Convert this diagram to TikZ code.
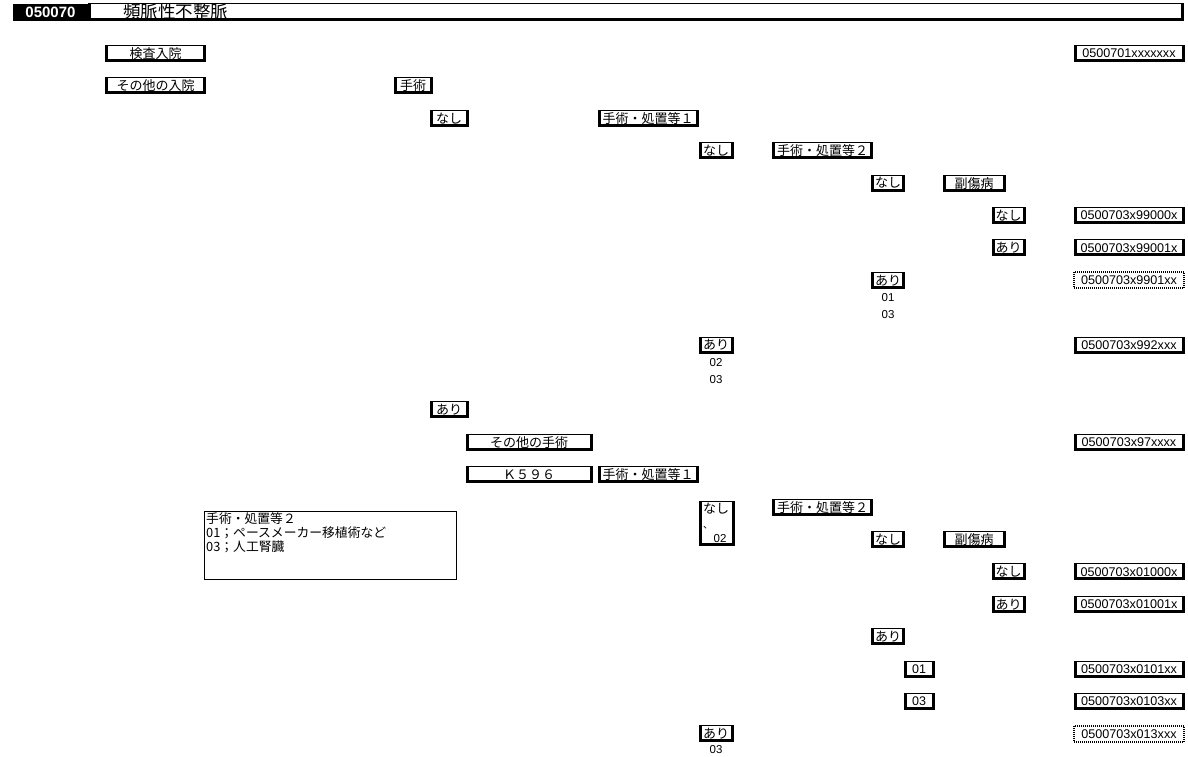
\documentclass[tikz,border=0pt]{standalone}
\usepackage{fontspec}
\setmainfont{Liberation Sans}
\newfontfamily\jp{Noto Sans CJK JP}
\tikzset{
 bx/.style={draw=black, line width=0.9pt, fill=white, inner sep=0pt, minimum height=16pt,
   path picture={\draw[line width=5pt] (path picture bounding box.north west) -- (path picture bounding box.south west) -- (path picture bounding box.south east) -- (path picture bounding box.north east);},
   font=\jp\fontsize{13}{13}\selectfont},
 cd/.style={bx, minimum width=110pt, font=\fontsize{12.6}{12.6}\selectfont},
 dt/.style={draw=black, dash pattern=on 1pt off 1pt, line width=2pt, fill=white, inner sep=0pt, minimum height=16pt, minimum width=110pt, font=\fontsize{12.6}{12.6}\selectfont},
 sub/.style={inner sep=0pt, font=\fontsize{11.5}{11.5}\selectfont},
 note/.style={inner sep=0pt, anchor=west, font=\jp\fontsize{12.8}{12.8}\selectfont},
}
\begin{document}
\begin{tikzpicture}[x=1pt,y=-1pt]
\useasboundingbox (0,0) rectangle (1188,756);
% header
\node[bx, minimum width=1095pt, minimum height=17pt] (hdr) at (635.5,12) {};
\node[fill=black, inner sep=0pt, minimum width=75pt, minimum height=17pt, text=white, font=\bfseries\fontsize{15}{15}\selectfont] (hcode) at (50.5,12) {050070};
\node[inner sep=0pt, anchor=west, font=\jp\fontsize{17.5}{17.5}\selectfont] (htitle) at (123,12) {頻脈性不整脈};
% level 0
\node[bx, minimum width=100pt] (kensa) at (155.5,53.5) {検査入院};
\node[cd] (c701) at (1129,53.5) {0500701xxxxxxx};
\node[bx, minimum width=100pt] (sonota) at (155.5,85.9) {その他の入院};
\node[bx, minimum width=38pt] (shu) at (413,85.9) {手術};
% no surgery branch
\node[bx, minimum width=38pt] (nashi1) at (449,118.3) {なし};
\node[bx, minimum width=100pt] (sho1a) at (648,118.3) {手術・処置等１};
\node[bx, minimum width=34pt] (nashi2a) at (716,150.7) {なし};
\node[bx, minimum width=100pt] (sho2a) at (822.5,150.7) {手術・処置等２};
\node[bx, minimum width=33pt] (nashi3a) at (888,183.1) {なし};
\node[bx, minimum width=62pt] (fukua) at (974,183.1) {副傷病};
\node[bx, minimum width=33pt] (nashi4a) at (1008.5,215.5) {なし};
\node[cd] (c99000) at (1129,215.5) {0500703x99000x};
\node[bx, minimum width=33pt] (ari4a) at (1008.5,247.9) {あり};
\node[cd] (c99001) at (1129,247.9) {0500703x99001x};
\node[bx, minimum width=33pt] (ari3a) at (888,280.3) {あり};
\node[sub] (s01a) at (888,297.5) {01};
\node[sub] (s03a) at (888,314.5) {03};
\node[dt] (c9901) at (1129,280.3) {0500703x9901xx};
\node[bx, minimum width=34pt] (ari2a) at (716,345.1) {あり};
\node[sub] (s02b) at (716,362.5) {02};
\node[sub] (s03b) at (716,379.5) {03};
\node[cd] (c992) at (1129,345.1) {0500703x992xxx};
% surgery branch
\node[bx, minimum width=38pt] (ari1) at (449,409.9) {あり};
\node[bx, minimum width=126pt] (sonotashu) at (529,442.3) {その他の手術};
\node[cd] (c97) at (1129,442.3) {0500703x97xxxx};
\node[bx, minimum width=126pt] (k596) at (529,474.7) {Ｋ５９６};
\node[bx, minimum width=100pt] (sho1b) at (648,474.7) {手術・処置等１};
\node[bx, minimum width=35pt, minimum height=44pt] (nashi2b) at (716.5,523) {};
\node[inner sep=0pt, font=\jp\fontsize{13}{13}\selectfont] (nashi2bt) at (716,509) {なし};
\node[inner sep=0pt, font=\jp\fontsize{10}{10}\selectfont] (ten) at (708,528) {、};
\node[sub] (s02c) at (720,538.5) {02};
\node[bx, minimum width=100pt] (sho2b) at (822.5,507.1) {手術・処置等２};
\node[draw=black, line width=0.8pt, minimum width=252pt, minimum height=68pt, inner sep=0pt] (notebox) at (330,545.5) {};
\node[note] (n1) at (206,519) {手術・処置等２};
\node[note] (n2) at (206,533) {01；ペースメーカー移植術など};
\node[note] (n3) at (206,547) {03；人工腎臓};
\node[bx, minimum width=33pt] (nashi3b) at (888,539.5) {なし};
\node[bx, minimum width=62pt] (fukub) at (974,539.5) {副傷病};
\node[bx, minimum width=33pt] (nashi4b) at (1008.5,571.9) {なし};
\node[cd] (c01000) at (1129,571.9) {0500703x01000x};
\node[bx, minimum width=33pt] (ari4b) at (1008.5,604.3) {あり};
\node[cd] (c01001) at (1129,604.3) {0500703x01001x};
\node[bx, minimum width=33pt] (ari3b) at (888,636.7) {あり};
\node[bx, minimum width=30pt, font=\fontsize{12.5}{12.5}\selectfont] (o01) at (919,669.1) {01};
\node[cd] (c0101) at (1129,669.1) {0500703x0101xx};
\node[bx, minimum width=30pt, font=\fontsize{12.5}{12.5}\selectfont] (o03) at (919,701.5) {03};
\node[cd] (c0103) at (1129,701.5) {0500703x0103xx};
\node[bx, minimum width=34pt] (ari2b) at (716,733.9) {あり};
\node[sub] (s03d) at (716,750) {03};
\node[dt] (c013) at (1129,733.9) {0500703x013xxx};
\end{tikzpicture}
\end{document}
